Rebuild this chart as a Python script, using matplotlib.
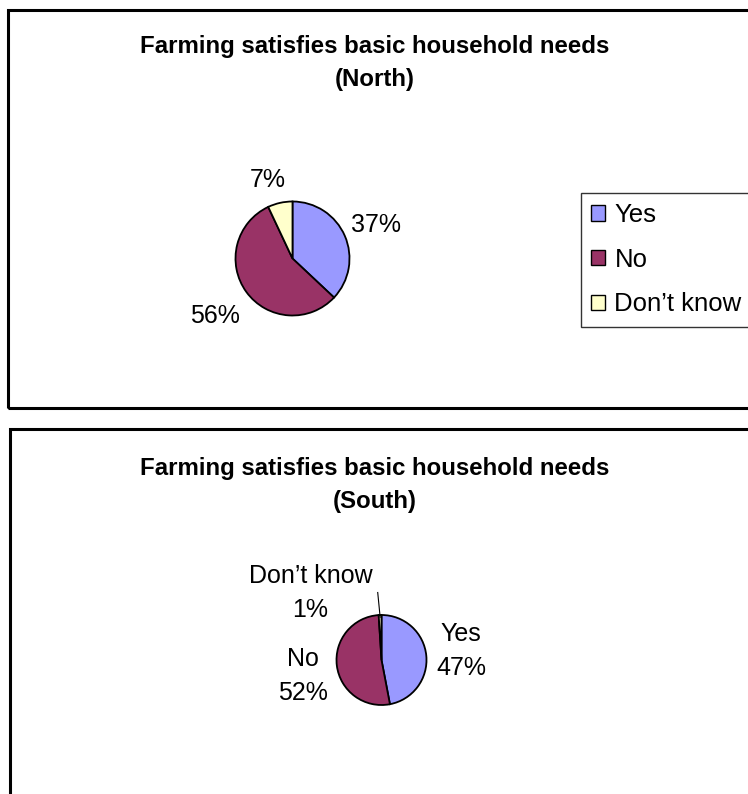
import matplotlib
matplotlib.use("Agg")
import matplotlib.pyplot as plt
from matplotlib.patches import Rectangle
import numpy as np

plt.rcParams['font.family'] = ['Liberation Sans', 'DejaVu Sans']

# Survey answers, percent of respondents
categories = ['Yes', 'No', 'Don\u2019t know']
north_values = [37, 56, 7]
south_values = [47, 52, 1]
colors = ['#9999FF', '#993366', '#FFFFCC']

title_text = 'Farming satisfies basic household needs'
regions = ['North', 'South']

W, H = 748, 794
fig = plt.figure(figsize=(W / 100, H / 100), dpi=100)


def px_box(x0, y0, x1, y1):
    # pixel box (top-left origin) -> figure fraction rect
    return [x0 / W, 1 - y1 / H, (x1 - x0) / W, (y1 - y0) / H]


# panel frames
for (x0, y0, x1, y1) in [(8, 10, 770, 408), (9.5, 429, 770, 820)]:
    l, b, w, h = px_box(x0, y0, x1, y1)
    fig.add_artist(Rectangle((l, b), w, h, transform=fig.transFigure,
                             fill=False, edgecolor='black', linewidth=2.2,
                             clip_on=False))

# titles
fig.text(375 / W, 1 - 63 / H, title_text + '\n(' + regions[0] + ')',
         ha='center', va='center', fontsize=17.3, fontweight='bold',
         linespacing=1.6)
fig.text(375 / W, 1 - 485 / H, title_text + '\n(' + regions[1] + ')',
         ha='center', va='center', fontsize=17.3, fontweight='bold',
         linespacing=1.6)


def draw_pie(cx, cy, r, values):
    ax = fig.add_axes(px_box(cx - r, cy - r, cx + r, cy + r))
    wedges, _ = ax.pie(values, colors=colors, startangle=90,
                       counterclock=False, radius=1,
                       wedgeprops=dict(edgecolor='black', linewidth=1.3))
    ax.set_xlim(-1, 1)
    ax.set_ylim(-1, 1)
    ax.axis('off')
    return ax, wedges


# North pie
ax1, wedges1 = draw_pie(292.5, 258.5, 57, north_values)
north_label_pos = [(1.47, 0.58), (-1.36, -1.01), (-0.44, 1.38)]
for v, (x, y) in zip(north_values, north_label_pos):
    ax1.text(x, y, f'{v}%', ha='center', va='center', fontsize=18)

leg = fig.legend(wedges1, categories, loc='upper left',
                 bbox_to_anchor=(581 / W, 1 - 193 / H), fontsize=18.5,
                 frameon=True, fancybox=False, edgecolor='black',
                 borderpad=0.4, handletextpad=0.35, handlelength=0.55,
                 handleheight=0.55, labelspacing=0.8, borderaxespad=0)
leg.get_frame().set_linewidth(1.0)
for h in leg.legend_handles:
    h.set_linewidth(1.0)

# South pie
ax2, wedges2 = draw_pie(381.5, 660, 45, south_values)
south_label_pos = [(1.77, 0.20), (-1.74, -0.36), (-1.58, 1.49)]
for cat, v, (x, y) in zip(categories, south_values, south_label_pos):
    ax2.text(x, y, f'{cat}\n{v}%', ha='center', va='center',
             fontsize=18, linespacing=1.5)

# leader line for the small slice
w = wedges2[2]
mid = np.deg2rad((w.theta1 + w.theta2) / 2)
ax2.plot([-0.084, 0.95 * np.cos(mid)], [1.50, 0.95 * np.sin(mid)],
         color='black', linewidth=0.8, clip_on=False)

fig.savefig('out.png', dpi=100)
